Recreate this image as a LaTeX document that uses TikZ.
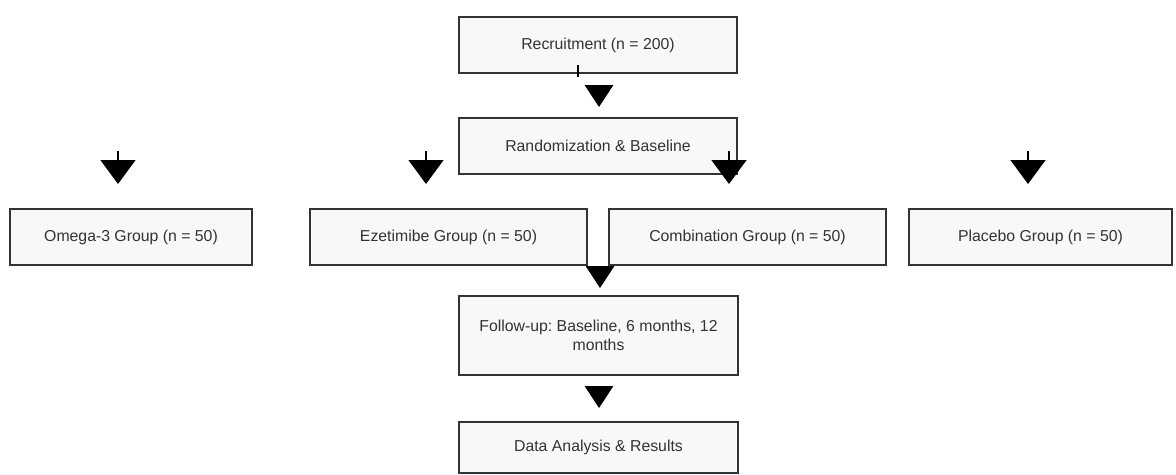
\documentclass[tikz,border=0pt]{standalone}
\usepackage{fontspec}
\setmainfont{Liberation Sans}
\usetikzlibrary{arrows.meta,positioning}
\definecolor{edgegray}{HTML}{333333}
\definecolor{boxfill}{HTML}{F8F8F8}
\frenchspacing
\begin{document}
\begin{tikzpicture}[
  x=0.02cm,y=-0.02cm,
  box/.style={draw=edgegray,line width=0.9pt,fill=boxfill,align=center,minimum height=1.12cm,inner sep=0pt,font=\fontsize{9}{11}\selectfont,text=edgegray},
  arr/.style={-{Triangle[length=4.8mm,width=7mm]},line width=0.8pt},
  head/.style={-{Triangle[length=4.4mm,width=5.7mm]},line width=0.8pt}]
\useasboundingbox (0,0) rectangle (1176,474);
\node[box,minimum width=5.56cm] (rec) at (598,45) {Recruitment (n = 200)};
\node[box,minimum width=5.56cm] (rand) at (598,146) {Randomization \& Baseline};
\node[box,minimum width=4.84cm] (omega) at (131,237) {Omega-3 Group (n = 50)};
\node[box,minimum width=5.54cm] (ezet) at (448.5,237) {Ezetimibe Group (n = 50)};
\node[box,minimum width=5.54cm] (comb) at (747.5,237) {Combination Group (n = 50)};
\node[box,minimum width=5.26cm] (plac) at (1040.5,237) {Placebo Group (n = 50)};
\node[box,minimum width=5.58cm,minimum height=1.58cm] (fol) at (598.5,335.5) {Follow-up: Baseline, 6 months, 12\\months};
\node[box,minimum width=5.58cm,minimum height=1.02cm] (res) at (598.5,447.5) {Data Analysis \& Results};
% loose stem below recruitment
\coordinate (s1) at (578,65);
\coordinate (s2) at (578,77);
\draw[line width=0.8pt] (s1) -- (s2);
% arrow heads
\coordinate (h1) at (599,85);
\coordinate (h2) at (599,107);
\draw[head] (h1) -- (h2);
\foreach \x/\n in {118/o,426/e,729/c,1028/p} {
  \coordinate (\n1) at (\x,151);
  \coordinate (\n2) at (\x,184);
  \draw[arr] (\n1) -- (\n2);
}
\coordinate (g1) at (600,266);
\coordinate (g2) at (600,288);
\draw[head] (g1) -- (g2);
\coordinate (f1) at (599,387);
\coordinate (f2) at (599,408);
\draw[head] (f1) -- (f2);
\end{tikzpicture}
\end{document}
